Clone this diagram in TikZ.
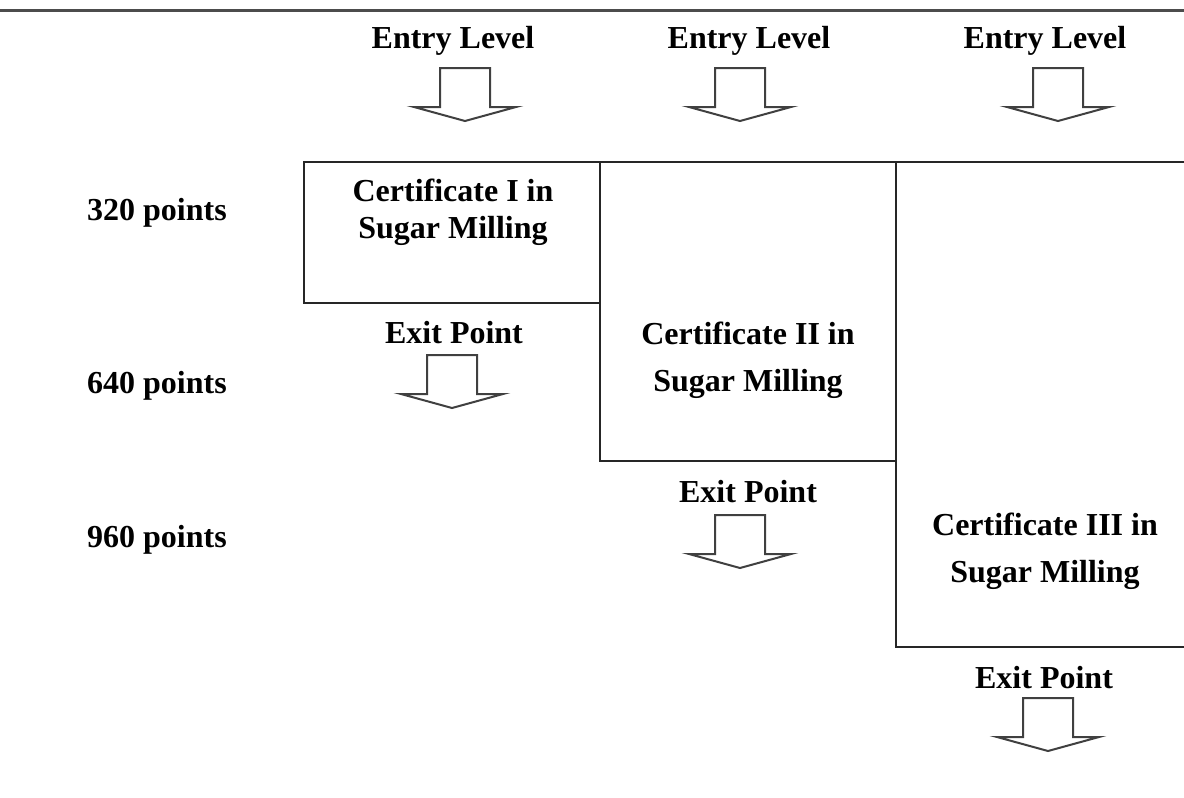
\documentclass[tikz,border=0pt]{standalone}
\usepackage{fontspec}
\setmainfont{Liberation Serif}
\newcommand{\blockdown}[3]{% name, centre x, top y
    \draw[blockarrow] (#2-25,#3)--(#2+25,#3)--(#2+25,#3+39)--(#2+51,#3+39)
        --(#2,#3+53) coordinate (#1)--(#2-51,#3+39)--(#2-25,#3+39)--cycle;}
\begin{document}
\begin{tikzpicture}
    [x=0.5pt,y=-0.5pt,
     lbl/.style={font=\fontsize{16}{18.5}\selectfont\bfseries,inner sep=0pt},
     cert/.style={lbl,align=center},
     boxline/.style={draw=black!85,line width=1pt},
     blockarrow/.style={draw=black!75,line width=1pt,line join=miter}]
    \useasboundingbox (0,0) rectangle (1184,798);
    %top rule
    \draw[line width=1.5pt,black!70](0,10)--(1184,10);
    %entry levels
    \node[lbl] (entryA) at (453,41) {Entry Level};
    \node[lbl] (entryB) at (749,41) {Entry Level};
    \node[lbl] (entryC) at (1045,41) {Entry Level};
    \blockdown{entryAtip}{465}{68}
    \blockdown{entryBtip}{740}{68}
    \blockdown{entryCtip}{1058}{68}
    %points scale
    \node[lbl] (pts320) at (157,213) {320 points};
    \node[lbl] (pts640) at (157,386) {640 points};
    \node[lbl] (pts960) at (157,540) {960 points};
    %certificate boxes
    \draw[boxline] (304,162) rectangle (600,303);
    \draw[boxline] (600,162) rectangle (896,461);
    \draw[boxline] (1184,162)--(896,162)--(896,647)--(1184,647);
    \node[cert] (certI) at (453,212) {Certificate I in\\Sugar Milling};
    \node[cert] (certII) at (748,360) {Certificate II in\\[5pt]Sugar Milling};
    \node[cert] (certIII) at (1045,551) {Certificate III in\\[5pt]Sugar Milling};
    %exit points
    \node[lbl] (exitI) at (454,333) {Exit Point};
    \node[lbl] (exitII) at (748,492) {Exit Point};
    \node[lbl] (exitIII) at (1044,678) {Exit Point};
    \blockdown{exitItip}{452}{355}
    \blockdown{exitIItip}{740}{515}
    \blockdown{exitIIItip}{1048}{698}
\end{tikzpicture}
\end{document}
